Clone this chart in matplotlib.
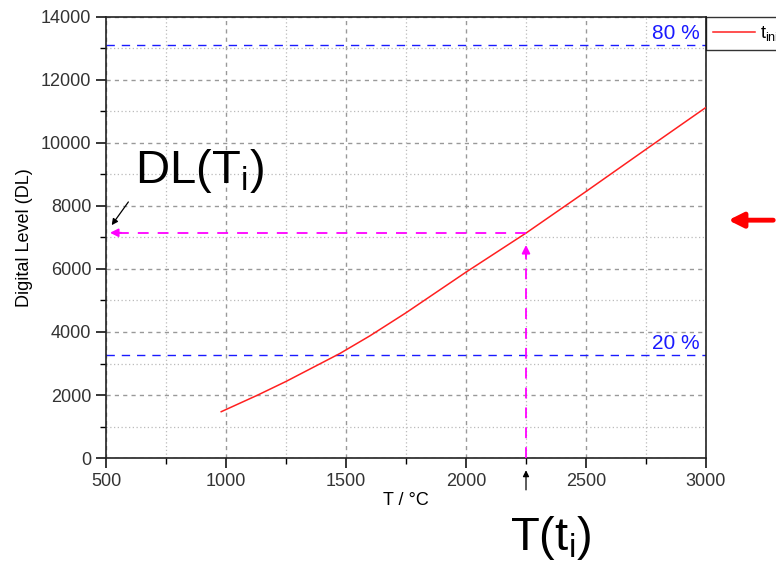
import numpy as np
import matplotlib
matplotlib.use("Agg")
import matplotlib.pyplot as plt
from matplotlib.ticker import MultipleLocator

plt.rcParams['font.family'] = ['Liberation Sans', 'DejaVu Sans']
plt.rcParams['mathtext.fontset'] = 'custom'
plt.rcParams['mathtext.rm'] = 'Liberation Sans'
plt.rcParams['mathtext.it'] = 'Liberation Sans'

# curve
temp = [980, 1130, 1250, 1475, 1600, 1750, 2000, 2250, 2500, 2750, 3000]
level = [1470, 1990, 2430, 3320, 3880, 4610, 5900, 7140, 8460, 9800, 11130]

level_80 = 13100
level_20 = 3280
t_i = 2250
dl_i = 7150

fig = plt.figure(figsize=(7.76, 5.66), dpi=100)
ax = fig.add_axes([0.1366, 0.1908, 0.7732, 0.7792])

# grid
ax.xaxis.set_major_locator(MultipleLocator(500))
ax.xaxis.set_minor_locator(MultipleLocator(250))
ax.yaxis.set_major_locator(MultipleLocator(2000))
ax.yaxis.set_minor_locator(MultipleLocator(1000))
ax.grid(which='major', color='#999999', linestyle=(0, (3, 3)), linewidth=1.0)
ax.grid(which='minor', color='#bbbbbb', linestyle=(0, (1, 2)), linewidth=0.9)
ax.set_axisbelow(True)

ax.plot(temp, level, color='#ff2020', linewidth=1.1, label=r't$_{\mathrm{init}}$', zorder=3)

# 80 % and 20 % levels
ax.axhline(level_80, color='#1a1aff', linestyle=(0, (6, 5)), linewidth=1.0)
ax.axhline(level_20, color='#1a1aff', linestyle=(0, (6, 5)), linewidth=1.0)
ax.text(2975, level_80 + 60, '80 %', color='#1a1aff', fontsize=15, ha='right', va='bottom')
ax.text(2975, level_20 + 60, '20 %', color='#1a1aff', fontsize=15, ha='right', va='bottom')

# magenta guide lines
ax.plot([t_i, 520], [dl_i, dl_i], color='magenta', linestyle=(0, (6, 5)), linewidth=1.3, zorder=4)
ax.plot([t_i, t_i], [0, dl_i - 400], color='magenta', linestyle=(0, (6, 5)), linewidth=1.3, zorder=4)
ax.annotate('', xy=(505, dl_i), xytext=(575, dl_i),
            arrowprops=dict(arrowstyle='-|>', color='magenta', lw=1.3, mutation_scale=12))
ax.annotate('', xy=(t_i, 6850), xytext=(t_i, 6300),
            arrowprops=dict(arrowstyle='-|>', color='magenta', lw=1.3, mutation_scale=12))

# black pointers
ax.annotate('', xy=(517, 7320), xytext=(600, 8200), annotation_clip=False,
            arrowprops=dict(arrowstyle='-|>', color='black', lw=0.9, mutation_scale=9))
ax.annotate('', xy=(t_i, -300), xytext=(t_i, -1100), annotation_clip=False,
            arrowprops=dict(arrowstyle='-|>', color='black', lw=0.9, mutation_scale=9))

ax.text(621, 8730, r'DL(T$_{\mathrm{i}}$)', fontsize=34, va='baseline', ha='left')
fig.text(0.657, 0.028, r'T(t$_{\mathrm{i}}$)', fontsize=34, va='baseline', ha='left')

# red arrow outside the plot
fig.patches.append(matplotlib.patches.FancyArrowPatch(
    (1.0, 0.611), (0.935, 0.611), transform=fig.transFigure,
    arrowstyle='-|>', mutation_scale=22, color='#ff0000', lw=3.5))

ax.set_xlim(500, 3000)
ax.set_ylim(0, 14000)
ax.set_xlabel('T / °C', fontsize=13, labelpad=2)
ax.set_ylabel('Digital Level (DL)', fontsize=13, labelpad=6)
ax.tick_params(which='major', direction='out', length=7, width=1.1, labelsize=13,
               labelcolor='#333333', top=False, right=False)
ax.tick_params(which='minor', direction='out', length=4, width=1.0, top=False, right=False)
for sp in ax.spines.values():
    sp.set_linewidth(1.2)
    sp.set_color('#222222')

fig.legend(loc='upper left', bbox_to_anchor=(0.9098, 0.970), frameon=True, fancybox=False,
           edgecolor='black', fontsize=13, handlelength=2.3, handletextpad=0.3,
           borderpad=0.4, borderaxespad=0)

plt.savefig('out.png', dpi=100)
plt.close()
